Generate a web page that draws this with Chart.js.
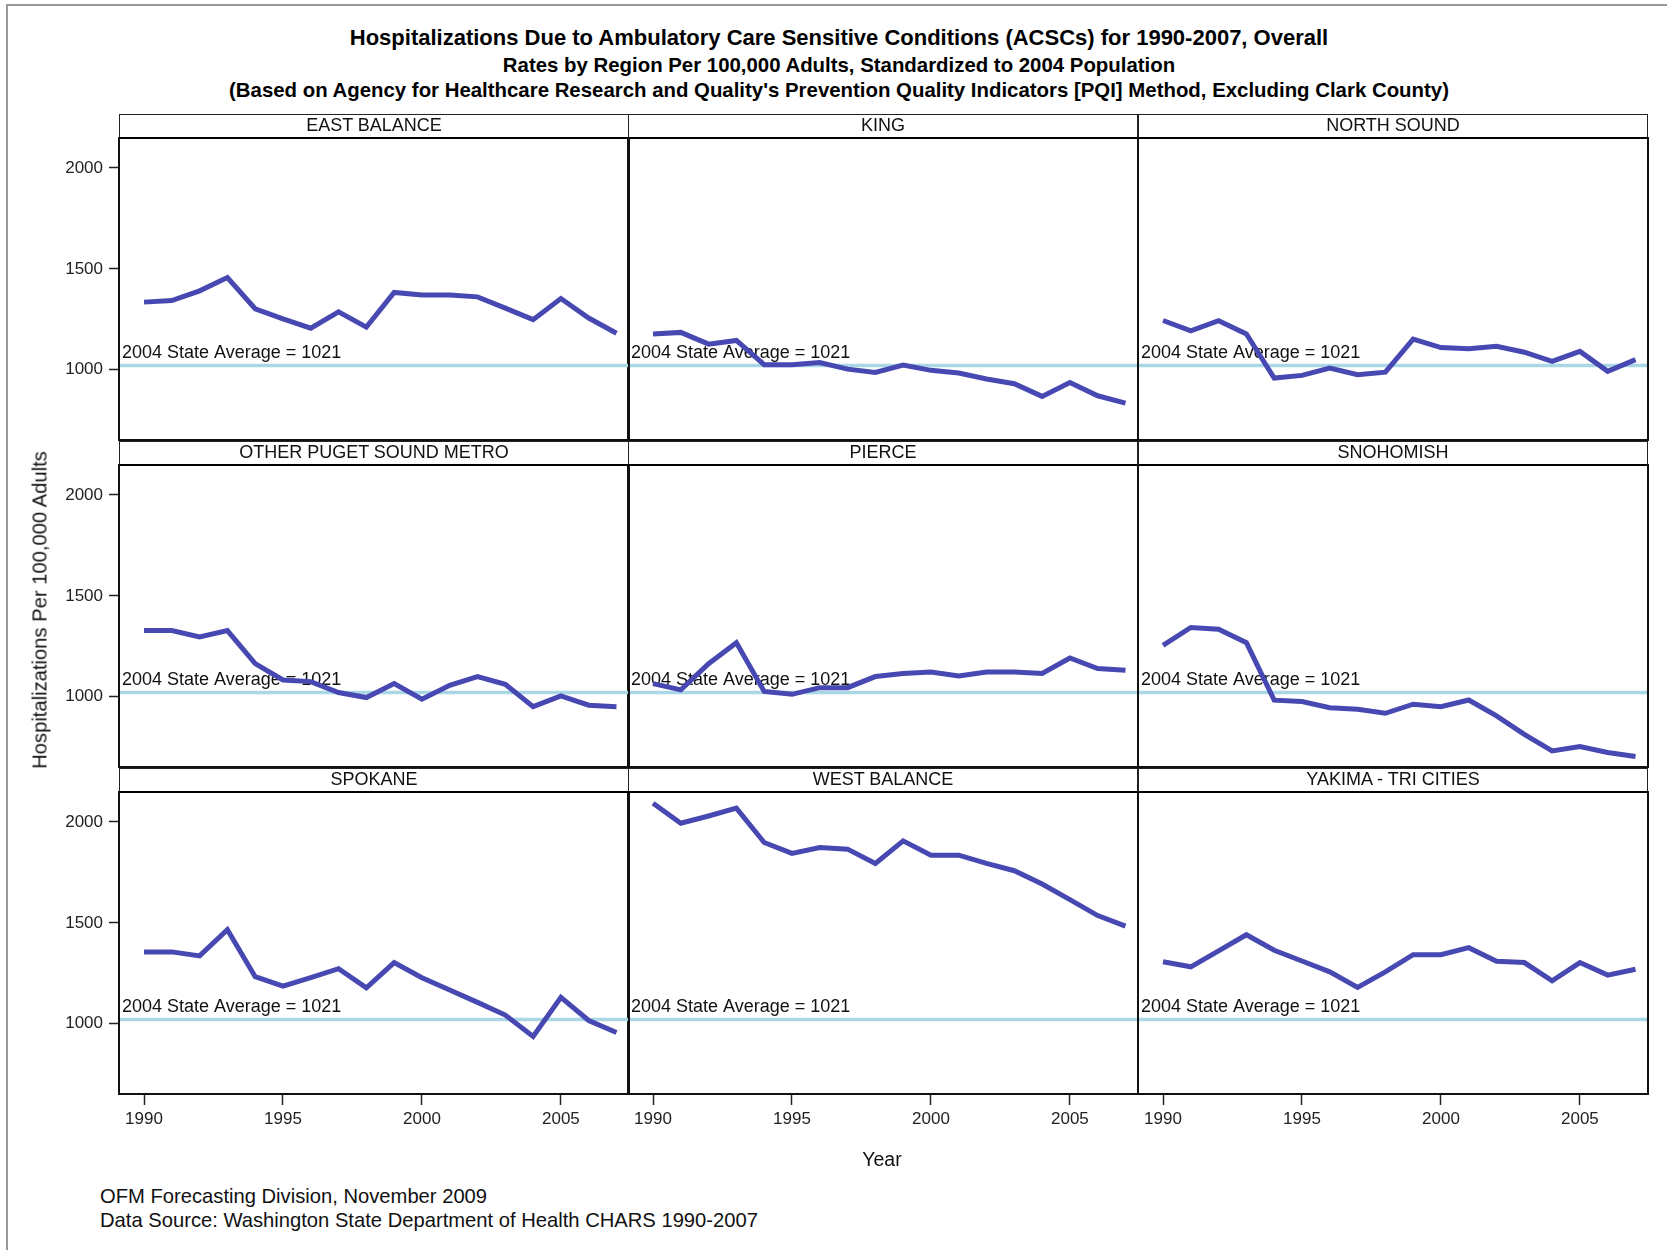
<!DOCTYPE html>
<html>
<head>
<meta charset="utf-8">
<title>Hospitalizations Due to ACSCs, 1990-2007</title>
<script src="https://cdn.jsdelivr.net/npm/chart.js@4.4.1/dist/chart.umd.min.js"></script>
<style>
  html, body { margin: 0; padding: 0; background: #fff; }
  #page { position: relative; width: 1667px; height: 1250px; overflow: hidden;
          font-family: "Liberation Sans", Arial, sans-serif; color: #000; }
  .frame-left { position: absolute; left: 6px; top: 4px; width: 2px; height: 1246px; background: #999; }
  .frame-top  { position: absolute; left: 6px; top: 4px; width: 1661px; height: 2px; background: #999; }
  .title { position: absolute; left: 0; width: 1678px; text-align: center; font-weight: bold;
           white-space: nowrap; line-height: 24px; }
  .head { position: absolute; box-sizing: border-box; height: 25px; border: 1.5px solid #222;
          border-bottom: 2px solid #000; text-align: center; font-size: 18px; line-height: 21px;
          white-space: nowrap; color: #111; }
  .ytitle { position: absolute; left: 40px; top: 610px; font-size: 20.2px; white-space: nowrap;
            transform: translate(-50%, -50%) rotate(-90deg); color: #111; }
  .xtitle { position: absolute; left: 882px; top: 1159px; font-size: 19.5px;
            transform: translate(-50%, -50%); color: #111; }
  .foot { position: absolute; left: 100px; font-size: 20.2px; line-height: 24px; white-space: nowrap; color: #111; }
  canvas { position: absolute; }
</style>
</head>
<body>
<div id="page">
  <div class="frame-left"></div>
  <div class="frame-top"></div>
  <div class="title" style="top:26px;font-size:22px">Hospitalizations Due to Ambulatory Care Sensitive Conditions (ACSCs) for 1990-2007, Overall</div>
  <div class="title" style="top:53px;font-size:20.4px">Rates by Region Per 100,000 Adults, Standardized to 2004 Population</div>
  <div class="title" style="top:78px;font-size:20.4px">(Based on Agency for Healthcare Research and Quality's Prevention Quality Indicators [PQI] Method, Excluding Clark County)</div>
  <div class="ytitle">Hospitalizations Per 100,000 Adults</div>
  <div class="xtitle">Year</div>
  <div class="foot" style="top:1184px">OFM Forecasting Division, November 2009</div>
  <div class="foot" style="top:1208px">Data Source: Washington State Department of Health CHARS 1990-2007</div>
</div>
<script>
// data (rate per 100,000 adults)
const years = [1990, 1991, 1992, 1993, 1994, 1995, 1996, 1997, 1998, 1999,
               2000, 2001, 2002, 2003, 2004, 2005, 2006, 2007];
const regions = ['EAST BALANCE', 'KING', 'NORTH SOUND',
                 'OTHER PUGET SOUND METRO', 'PIERCE', 'SNOHOMISH',
                 'SPOKANE', 'WEST BALANCE', 'YAKIMA - TRI CITIES'];
const eastBalance = [1335, 1343, 1391, 1457, 1302, 1252, 1206, 1287, 1211, 1383, 1370, 1370, 1361, 1305, 1248, 1353, 1256, 1181];
const king        = [1177, 1185, 1127, 1145, 1025, 1025, 1036, 1003, 987, 1023, 997, 984, 954, 931, 868, 937, 871, 835];
const northSound  = [1244, 1193, 1243, 1177, 959, 972, 1008, 975, 988, 1152, 1110, 1104, 1116, 1087, 1041, 1091, 992, 1050];
const otherPuget  = [1328, 1328, 1296, 1328, 1164, 1083, 1075, 1021, 996, 1065, 988, 1057, 1100, 1062, 951, 1004, 958, 951];
const pierce      = [1065, 1034, 1164, 1268, 1026, 1012, 1045, 1045, 1100, 1115, 1123, 1103, 1123, 1123, 1115, 1192, 1140, 1131];
const snohomish   = [1255, 1343, 1334, 1268, 983, 976, 946, 938, 918, 963, 951, 984, 905, 814, 732, 753, 724, 704];
const spokane     = [1356, 1356, 1336, 1466, 1233, 1186, 1229, 1273, 1178, 1303, 1228, 1167, 1106, 1043, 937, 1131, 1016, 957];
const westBalance = [2092, 1993, 2029, 2068, 1898, 1844, 1873, 1865, 1794, 1906, 1835, 1835, 1794, 1758, 1692, 1615, 1536, 1484];
const yakima      = [1307, 1282, 1361, 1441, 1364, 1311, 1257, 1180, 1257, 1342, 1342, 1377, 1310, 1303, 1213, 1303, 1241, 1270];
const stateAverage = 1021;
const xTickValues = [1990, 1995, 2000, 2005];
const yTickValues = [1000, 1500, 2000];

const series = [eastBalance, king, northSound, otherPuget, pierce, snohomish, spokane, westBalance, yakima];

// layout
const X_MIN = 1989.1, X_MAX = 2007.45;
const Y_MIN = 652, Y_MAX = 2148;
const colLefts = [119, 628, 1138];
const rowTops = [138, 465, 792];
const PLOT_W = 510, PLOT_H = 302;
const PAD_L = 80, PAD_R = 20, PAD_T = 20, PAD_B = 60;
const LINE_COLOR = '#4848b2';
const REF_COLOR = '#a9d7e6';

// use a narrow face for tick labels when the machine has one
const probe = document.createElement('canvas').getContext('2d');
probe.font = '20px "Liberation Sans Narrow", monospace';
const wNarrow = probe.measureText('2000 1995').width;
probe.font = '20px monospace';
const hasNarrow = Math.abs(wNarrow - probe.measureText('2000 1995').width) > 0.5;
const tickFont = hasNarrow
  ? { family: '"Liberation Sans Narrow", sans-serif', size: 21 }
  : { family: '"Liberation Sans", Arial, sans-serif', size: 17 };

const panelDecor = {
  id: 'panelDecor',
  afterDatasetDraw(chart, args) {
    if (args.index !== 1) return;
    const { ctx, chartArea } = chart;
    const y = chart.scales.y.getPixelForValue(stateAverage);
    ctx.save();
    ctx.font = '18px "Liberation Sans", Arial, sans-serif';
    ctx.fillStyle = '#111';
    ctx.textBaseline = 'alphabetic';
    ctx.fillText('2004 State Average = ' + stateAverage, chartArea.left + 3, y - 8);
    ctx.restore();
  },
  afterDraw(chart) {
    const { ctx, chartArea: a } = chart;
    ctx.save();
    ctx.strokeStyle = '#111';
    ctx.lineWidth = 2;
    ctx.strokeRect(a.left, a.top, a.right - a.left, a.bottom - a.top);
    ctx.restore();
  }
};

const page = document.getElementById('page');

regions.forEach(function(name, idx) {
  const col = idx % 3, row = Math.floor(idx / 3);
  const left = colLefts[col], top = rowTops[row];
  const showY = col === 0, showX = row === 2;

  const head = document.createElement('div');
  head.className = 'head';
  head.style.left = left + 'px';
  head.style.top = (top - 24) + 'px';
  head.style.width = PLOT_W + 'px';
  head.textContent = name;
  page.appendChild(head);

  const canvas = document.createElement('canvas');
  canvas.width = PLOT_W + PAD_L + PAD_R;
  canvas.height = PLOT_H + PAD_T + PAD_B;
  canvas.style.left = (left - PAD_L) + 'px';
  canvas.style.top = (top - PAD_T) + 'px';
  page.insertBefore(canvas, page.firstChild.nextSibling);

  new Chart(canvas.getContext('2d'), {
    type: 'line',
    data: {
      datasets: [{
        data: years.map((yr, i) => ({ x: yr, y: series[idx][i] })),
        borderColor: LINE_COLOR,
        borderWidth: 5,
        pointRadius: 0,
        tension: 0
      }, {
        data: [{ x: X_MIN, y: stateAverage }, { x: X_MAX, y: stateAverage }],
        borderColor: REF_COLOR,
        borderWidth: 3.5,
        pointRadius: 0
      }]
    },
    options: {
      responsive: false,
      animation: false,
      events: [],
      layout: { padding: { top: PAD_T, right: PAD_R, left: 0, bottom: 0 } },
      plugins: { legend: { display: false }, tooltip: { enabled: false } },
      scales: {
        x: {
          type: 'linear', min: X_MIN, max: X_MAX,
          afterFit: s => { s.height = PAD_B; },
          afterBuildTicks: s => { s.ticks = xTickValues.map(v => ({ value: v })); },
          border: { display: false },
          grid: { display: showX, drawOnChartArea: false, tickLength: 11, tickColor: '#222', tickWidth: 1.5 },
          ticks: { display: showX, padding: 4, color: '#222', font: tickFont, maxRotation: 0,
                   callback: v => String(v) }
        },
        y: {
          type: 'linear', min: Y_MIN, max: Y_MAX,
          afterFit: s => { s.width = PAD_L; },
          afterBuildTicks: s => { s.ticks = yTickValues.map(v => ({ value: v })); },
          border: { display: false },
          grid: { display: showY, drawOnChartArea: false, tickLength: 10, tickColor: '#222', tickWidth: 1.5 },
          ticks: { display: showY, padding: 6, color: '#222', font: tickFont,
                   callback: v => String(v) }
        }
      }
    },
    plugins: [panelDecor]
  });
});
</script>
</body>
</html>
